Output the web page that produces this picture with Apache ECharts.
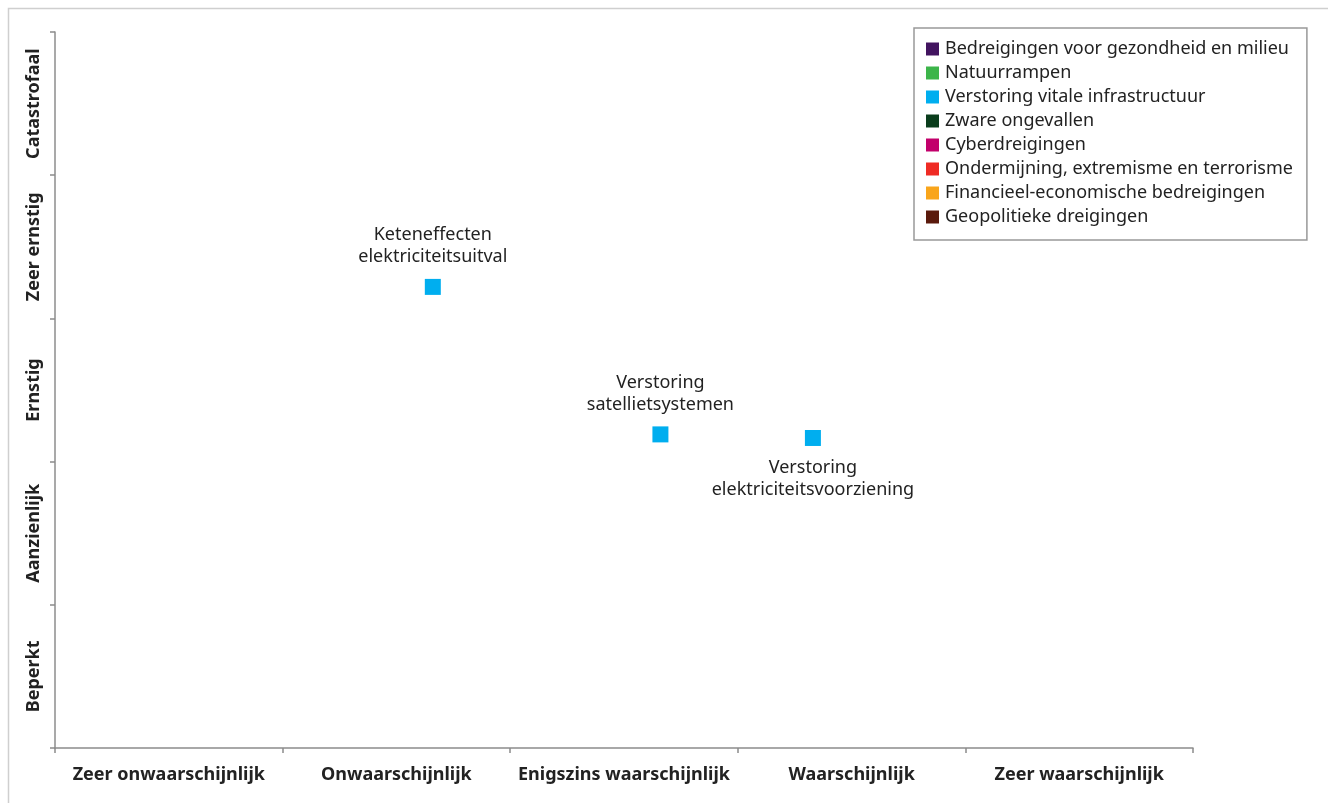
<!DOCTYPE html>
<html>
<head>
<meta charset="utf-8">
<script src="https://cdn.jsdelivr.net/npm/echarts@6/dist/echarts.min.js"></script>
<style>
  html, body { margin: 0; padding: 0; background: #fff; }
  #chart { width: 1328px; height: 803px; }
</style>
</head>
<body>
<div id="chart"></div>
<script>
const likelihood = [
  "Zeer onwaarschijnlijk",
  "Onwaarschijnlijk",
  "Enigszins waarschijnlijk",
  "Waarschijnlijk",
  "Zeer waarschijnlijk",
];
const impact = ["Beperkt", "Aanzienlijk", "Ernstig", "Zeer ernstig", "Catastrofaal"];
const themes = [
  "Bedreigingen voor gezondheid en milieu",
  "Natuurrampen",
  "Verstoring vitale infrastructuur",
  "Zware ongevallen",
  "Cyberdreigingen",
  "Ondermijning, extremisme en terrorisme",
  "Financieel-economische bedreigingen",
  "Geopolitieke dreigingen",
];
const themeColors = ["#42145f", "#3cb54a", "#00aeef", "#0a3d1c", "#c2006b", "#ef2b24", "#f9a51b", "#5a1a0c"];

// scenarios (all in "Verstoring vitale infrastructuur")
const scenarioNames = [
  "Keteneffecten\nelektriciteitsuitval",
  "Verstoring\nsatellietsystemen",
  "Verstoring\nelektriciteitsvoorziening",
];
const scenarioX = [1.66, 2.66, 3.33];
const scenarioY = [3.22, 2.19, 2.165];
const scenarioLabelPos = ["top", "top", "bottom"];

const font = "'Noto Sans', 'Open Sans', sans-serif";
const chart = echarts.init(document.getElementById("chart"));

const series = themes.map((name, i) => ({
  name: name,
  type: "scatter",
  xAxisIndex: 1,
  yAxisIndex: 1,
  symbol: "rect",
  symbolSize: 16,
  itemStyle: { color: themeColors[i], opacity: 1 },
  data: i === 2
    ? scenarioNames.map((n, j) => ({
        name: n,
        value: [scenarioX[j], scenarioY[j]],
        label: { position: scenarioLabelPos[j] },
      }))
    : [],
  label: {
    show: true,
    formatter: (p) => p.name,
    distance: 11,
    fontFamily: font,
    fontSize: 18,
    lineHeight: 22,
    color: "#222",
  },
}));

const axisLineStyle = { color: "#8c8c8c", width: 1.5 };

let option = {
  animation: false,
  textStyle: { fontFamily: font },
  graphic: [
    {
      type: "rect",
      shape: { x: 8.5, y: 8.5, width: 1400, height: 900 },
      style: { fill: "none", stroke: "#cfcfcf", lineWidth: 1.5 },
      silent: true,
    },
  ],
  legend: {
    orient: "vertical",
    left: 914,
    top: 28,
    data: themes,
    icon: "rect",
    itemWidth: 13,
    itemHeight: 13,
    itemGap: 6,
    padding: [12, 14, 14, 12],
    borderColor: "#999",
    borderWidth: 1.5,
    textStyle: { fontFamily: font, fontSize: 18, color: "#222", padding: [0, 0, 0, 1] },
  },
  grid: { left: 55, top: 32, right: 135, bottom: 55 },
  xAxis: [
    {
      type: "category",
      data: likelihood,
      boundaryGap: true,
      axisLine: { lineStyle: axisLineStyle },
      axisTick: { show: true, length: 5, lineStyle: axisLineStyle },
      axisLabel: {
        interval: 0,
        margin: 18,
        fontFamily: font,
        fontSize: 18,
        fontWeight: "bold",
        color: "#222",
      },
      splitLine: { show: false },
    },
    {
      type: "value",
      min: 0,
      max: 5,
      interval: 1,
      show: false,
    },
  ],
  yAxis: [
    {
      type: "category",
      data: impact,
      boundaryGap: true,
      axisLine: { lineStyle: axisLineStyle },
      axisTick: { show: true, length: 5, lineStyle: axisLineStyle },
      axisLabel: {
        interval: 0,
        rotate: 90,
        margin: 12,
        fontFamily: font,
        fontSize: 18,
        fontWeight: "bold",
        color: "#222",
      },
      splitLine: { show: false },
    },
    {
      type: "value",
      min: 0,
      max: 5,
      interval: 1,
      show: false,
    },
  ],
  series: series,
};

chart.setOption(option);
</script>
</body>
</html>
